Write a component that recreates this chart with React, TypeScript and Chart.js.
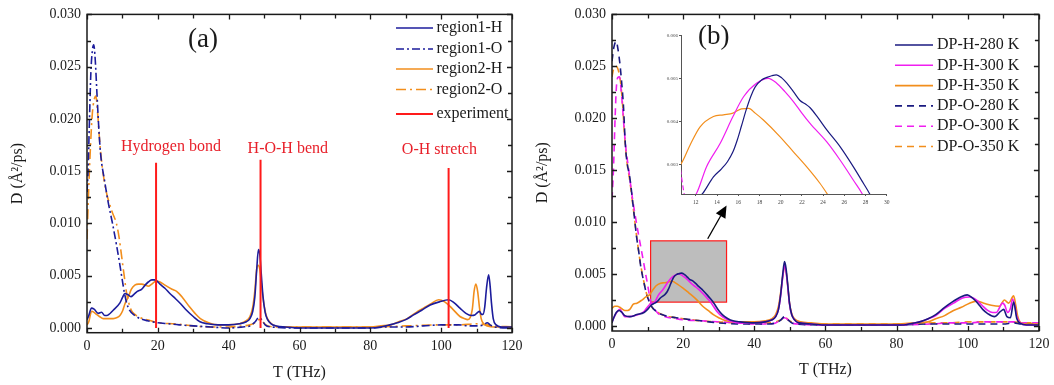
import { useEffect, useRef } from 'react';
import { Chart, registerables } from 'chart.js';

Chart.register(...registerables);

type P = [number, number];

const SERIF = '"Liberation Serif", "Times New Roman", serif';
const TEXT = '#1a1a1a';
const RED = '#e8202a';
const BLUE_A = '#1c1c9c';
const ORANGE = '#f28e1c';
const NAVY = '#1a1a80';
const MAGENTA = '#f01ef0';

// ---------------- axis ticks ----------------
const xTickValues = [0, 20, 40, 60, 80, 100, 120];
const xMinorValues = [10, 30, 50, 70, 90, 110];
const yTickValues = [0, 0.005, 0.01, 0.015, 0.02, 0.025, 0.03];
const yMinorValues = [0.0025, 0.0075, 0.0125, 0.0175, 0.0225, 0.0275];
const insetXTicks = [12, 14, 16, 18, 20, 22, 24, 26, 28, 30];
const insetYTicks = [0.003, 0.004, 0.005, 0.006];

// ---------------- panel (a) ----------------
const aRegion1H: P[] = [
  [0, 0.0008], [0.4, 0.0011], [1.3, 0.0019], [2.0, 0.0018], [3.2, 0.0014], [4.1, 0.0015], [5.0, 0.0012],
  [5.6, 0.0012], [7.4, 0.0017], [9.3, 0.0024], [10.0, 0.0029], [10.7, 0.0033], [11.5, 0.0032], [12.4, 0.0030],
  [13.2, 0.0032], [14.2, 0.0035], [15.4, 0.0037], [16.4, 0.0041], [17.3, 0.0044], [18.3, 0.0046], [19.0, 0.0046],
  [19.7, 0.0045], [20.6, 0.0042], [22, 0.0038], [23.4, 0.0033], [25, 0.0028], [26.5, 0.0023], [28.1, 0.0017],
  [30, 0.0011], [31.9, 0.0006], [34, 0.0004], [37, 0.0003], [40, 0.0003], [43, 0.0004], [45, 0.0006],
  [46, 0.0009], [46.8, 0.0016], [47.4, 0.0030], [47.9, 0.0055], [48.4, 0.0075], [48.8, 0.0070], [49.2, 0.0052],
  [49.7, 0.0030], [50.3, 0.0015], [51, 0.0008], [52, 0.0004], [53.5, 0.0002], [56, 0.0001], [60, 0.0000],
  [70, 0.0000], [80, 0.0000], [83, 0.0001], [85.5, 0.0003], [87.6, 0.0005], [90, 0.0008], [92.2, 0.00125],
  [94.5, 0.0017], [96.9, 0.0022], [99.5, 0.0025], [102.1, 0.0027], [103.7, 0.0024], [105.3, 0.0019],
  [107, 0.0014], [108.5, 0.0012], [109.5, 0.00125], [110.3, 0.0015], [110.8, 0.0016], [111.4, 0.0013],
  [111.8, 0.0013], [112.3, 0.0020], [112.8, 0.0038], [113.4, 0.0051], [113.8, 0.0041], [114.2, 0.0024],
  [114.7, 0.0009], [115.5, 0.0003], [117, 0.0001], [120, 0.0001],
];

const aRegion1O: P[] = [
  [0, 0.0130], [0.3, 0.0150], [0.7, 0.0200], [1.1, 0.0245], [1.5, 0.0265], [1.9, 0.0271], [2.3, 0.0258],
  [2.8, 0.0225], [3.3, 0.0193], [3.8, 0.0168], [5.0, 0.0140], [6.0, 0.0120], [7.2, 0.0100], [8.3, 0.0080],
  [9.3, 0.0060], [10.0, 0.0045], [10.6, 0.0033], [11.2, 0.0024], [12.0, 0.0017], [13.5, 0.0012], [15, 0.0009],
  [17, 0.0007], [20, 0.0005], [23, 0.0004], [26, 0.0003], [30, 0.0002], [35, 0.0001], [40, 0.0000],
  [44, 0.0001], [46, 0.0002], [47.5, 0.0006], [48.5, 0.0010], [49.3, 0.0008], [50.3, 0.0003], [52, 0.0001],
  [60, 0.0000], [80, 0.0000], [85, 0.0001], [90, 0.0001], [95, 0.0002], [100, 0.0003], [105, 0.0003],
  [108, 0.0002], [110, 0.0002], [112, 0.0003], [113, 0.0005], [113.8, 0.0003], [115, 0.0001], [120, 0.0000],
];

const aRegion2H: P[] = [
  [0, 0.0003], [0.5, 0.0006], [1.3, 0.0016], [2.0, 0.0015], [2.7, 0.0013], [3.5, 0.0011], [4.6, 0.0009],
  [6, 0.0009], [7.4, 0.0009], [8.5, 0.0010], [9.3, 0.0012], [10.0, 0.0016], [10.7, 0.0023], [11.7, 0.0030],
  [12.5, 0.0037], [13.5, 0.0041], [14.5, 0.0042], [15.5, 0.0042], [16.5, 0.0041], [17.3, 0.0040],
  [18.3, 0.0042], [19.5, 0.0045], [20.6, 0.0044], [22, 0.0041], [24, 0.0037], [25.3, 0.0035], [27, 0.0029],
  [29, 0.0020], [30.5, 0.0014], [32, 0.0009], [34.7, 0.00045], [37, 0.0003], [40, 0.0003], [43, 0.0004],
  [45, 0.0007], [46, 0.0011], [46.8, 0.0020], [47.4, 0.0036], [47.9, 0.0056], [48.3, 0.0060], [48.8, 0.0056],
  [49.3, 0.0040], [49.9, 0.0024], [50.6, 0.0012], [51.5, 0.0006], [52.5, 0.0003], [55, 0.0001], [60, 0.0001],
  [70, 0.0001], [80, 0.0001], [83, 0.0002], [85.7, 0.0003], [88, 0.0006], [90.4, 0.0009], [93, 0.0015],
  [95, 0.0019], [97, 0.0023], [99.3, 0.0027], [101, 0.0025], [103, 0.0019], [105.3, 0.0011], [106.5, 0.0009],
  [107.5, 0.0008], [108.2, 0.0010], [108.8, 0.0018], [109.3, 0.0035], [109.8, 0.0042], [110.3, 0.0035],
  [110.8, 0.0020], [111.3, 0.0009], [112, 0.0004], [113, 0.0002], [115, 0.0001], [120, 0.0001],
];

const aRegion2O: P[] = [
  [0, 0.0085], [0.5, 0.0135], [1.0, 0.0175], [1.5, 0.0205], [2.0, 0.0218], [2.5, 0.0222], [3.0, 0.0206],
  [3.5, 0.0182], [4.1, 0.0160], [5.0, 0.0138], [5.6, 0.0128], [7.0, 0.0112], [8.3, 0.0100], [9.0, 0.0088],
  [9.8, 0.0068], [10.5, 0.0050], [11.2, 0.0033], [11.8, 0.0024], [12.5, 0.0017], [13.5, 0.0013], [15, 0.0010],
  [18, 0.0007], [20, 0.0005], [25, 0.0004], [30, 0.0002], [35, 0.0001], [40, 0.0001], [44, 0.0002],
  [46, 0.0003], [47.5, 0.0005], [48.6, 0.0008], [49.3, 0.0007], [50.5, 0.0003], [53, 0.0001], [60, 0.0001],
  [80, 0.0001], [90, 0.0002], [100, 0.0003], [105, 0.0003], [110, 0.0004], [113, 0.0003], [115, 0.0002],
  [120, 0.0001],
];

const experimentX = [19.5, 49.0, 102.1];
const experimentTop = [0.0158, 0.0161, 0.0153];

const aLabels = ['(a)', 'Hydrogen bond', 'H-O-H bend', 'O-H stretch'];
const aLabelX = [32.75, 23.7, 56.7, 99.5];
const aLabelY = [0.0276, 0.0173, 0.0171, 0.0170];

// ---------------- panel (b) ----------------
const bH280: P[] = [
  [0, 0.0003], [0.5, 0.0008], [1.2, 0.0013], [2.0, 0.0015], [2.8, 0.0013], [3.6, 0.0010], [5, 0.0009],
  [7, 0.0011], [9, 0.0013], [10, 0.0016], [11, 0.0020], [12, 0.0022], [12.6, 0.00232], [13.66, 0.00272],
  [14.4, 0.0029], [14.98, 0.00307], [15.5, 0.0033], [15.9, 0.00357], [16.3, 0.0039], [16.74, 0.00427],
  [17.2, 0.0046], [17.6, 0.00481], [18.2, 0.00497], [18.7, 0.00503], [19.16, 0.00507], [19.6, 0.00509],
  [20.1, 0.00502], [20.6, 0.00489], [21.2, 0.0047], [21.8, 0.0045], [22.4, 0.0044], [22.8, 0.00432],
  [23.5, 0.0041], [24.35, 0.00381], [25.6, 0.00342], [26.86, 0.00295], [27.8, 0.00257], [28.4, 0.00232],
  [29.2, 0.0019], [30, 0.0015], [31, 0.0011], [32.6, 0.0007], [34, 0.0005], [36, 0.0004], [40, 0.0003],
  [43, 0.0004], [45, 0.0006], [46, 0.0009], [46.8, 0.0016], [47.4, 0.0030], [48.0, 0.0050], [48.5, 0.0062],
  [48.9, 0.0056], [49.4, 0.0040], [49.9, 0.0022], [50.5, 0.0011], [51.3, 0.0006], [52.5, 0.0003], [56, 0.0002],
  [60, 0.0001], [70, 0.0001], [80, 0.0001], [82, 0.0001], [84.2, 0.00025], [86.5, 0.0004], [88.85, 0.0007],
  [91, 0.0011], [93.5, 0.0018], [96, 0.0024], [98, 0.0028], [99.85, 0.0030], [101.3, 0.0027], [102.8, 0.0022],
  [104.2, 0.0016], [105.6, 0.0012], [107.5, 0.0009], [109.2, 0.0014], [110.1, 0.0016], [111, 0.0009],
  [112, 0.0008], [112.9, 0.0023], [113.8, 0.0007], [114.8, 0.00025], [116.5, 0.0001], [120, 0.0001],
];

const bH300: P[] = [
  [0, 0.0004], [0.8, 0.0010], [1.5, 0.0014], [2.2, 0.0016], [3.0, 0.0012], [3.6, 0.0009], [5, 0.0009],
  [7.4, 0.0011], [9, 0.0014], [9.7, 0.0017], [10.7, 0.0021], [12.03, 0.00232], [13.0, 0.00295], [14.3, 0.0035],
  [15.5, 0.00412], [16.5, 0.00458], [17.75, 0.0049], [18.84, 0.00501], [19.6, 0.0049], [20.4, 0.0047],
  [21.2, 0.00447], [22.0, 0.0042], [22.77, 0.00396], [24.35, 0.00353], [25.6, 0.00311], [26.86, 0.00264],
  [27.7, 0.00232], [28.5, 0.0019], [29.5, 0.0014], [31, 0.0009], [32.5, 0.0006], [34, 0.0004], [37, 0.0003],
  [40, 0.0003], [43, 0.0004], [45, 0.0006], [46, 0.0009], [46.8, 0.0016], [47.4, 0.0029], [48.0, 0.0047],
  [48.5, 0.0058], [48.9, 0.0053], [49.4, 0.0038], [49.9, 0.0021], [50.5, 0.0011], [51.3, 0.0006],
  [52.5, 0.0003], [56, 0.0002], [60, 0.0001], [80, 0.0001], [84, 0.0002], [86.5, 0.0004], [89, 0.0007],
  [91, 0.0010], [93.5, 0.0017], [96, 0.0022], [98.5, 0.0027], [100.5, 0.0028], [102.5, 0.0025], [104, 0.0020],
  [105.6, 0.0015], [107, 0.0013], [108, 0.0013], [109.8, 0.0022], [110.4, 0.0020], [111.2, 0.0013],
  [112, 0.0017], [112.6, 0.0026], [113.2, 0.0020], [113.8, 0.0009], [114.8, 0.0003], [116.5, 0.0001],
  [120, 0.0001],
];

const bH350: P[] = [
  [0, 0.0017], [0.8, 0.0019], [1.5, 0.0019], [2.2, 0.0018], [3.0, 0.0016], [3.6, 0.0015], [4.4, 0.0015],
  [5, 0.0016], [6, 0.0021], [7, 0.0022], [8.4, 0.0025], [9.5, 0.0028], [10.6, 0.00302], [11.46, 0.00346],
  [12.4, 0.00388], [13.66, 0.00412], [14.6, 0.00416], [15.5, 0.0042], [16.3, 0.0043], [17.0, 0.00431],
  [17.6, 0.0042], [18.37, 0.00404], [19.95, 0.00365], [21.2, 0.0033], [22.46, 0.00295], [23.7, 0.00257],
  [24.4, 0.00232], [25.5, 0.0019], [27, 0.0015], [28.5, 0.0011], [30, 0.0008], [32, 0.0005], [35, 0.0004],
  [40, 0.0004], [43, 0.0005], [45, 0.0007], [46, 0.0011], [46.8, 0.0019], [47.4, 0.0032], [48.0, 0.0048],
  [48.5, 0.0057], [48.9, 0.0053], [49.4, 0.0039], [49.9, 0.0022], [50.5, 0.0012], [51.3, 0.0007],
  [53, 0.0004], [56, 0.0003], [60, 0.0002], [80, 0.0002], [85, 0.0003], [88.85, 0.0004], [91, 0.0007],
  [93.5, 0.0010], [96, 0.0015], [98.2, 0.0018], [100.5, 0.0022], [102.4, 0.0024], [104.5, 0.0022],
  [106.6, 0.0020], [108.9, 0.0019], [110.3, 0.0025], [111.5, 0.0022], [112.9, 0.0029], [113.5, 0.0020],
  [114, 0.0010], [115, 0.0003], [117, 0.0002], [120, 0.0002],
];

const bO280: P[] = [
  [0, 0.0255], [0.5, 0.0268], [1.2, 0.0274], [1.7, 0.0266], [2.24, 0.0252], [2.7, 0.0235], [3.2, 0.0213],
  [3.8, 0.0172], [4.3, 0.0156], [5.0, 0.0143], [6.0, 0.0114], [6.9, 0.0086], [7.5, 0.0072], [8.1, 0.0057],
  [8.9, 0.0043], [9.7, 0.0031], [10.65, 0.0022], [11.5, 0.0017], [12.5, 0.0014], [14, 0.0011], [16, 0.0009],
  [18, 0.0008], [20, 0.0007], [25, 0.0005], [30, 0.0003], [35, 0.0002], [40, 0.0002], [44, 0.0002],
  [46, 0.0003], [47.5, 0.0006], [48.5, 0.0009], [49.5, 0.0006], [50.5, 0.0003], [52, 0.0002], [60, 0.0001],
  [80, 0.0001], [90, 0.0002], [100, 0.0002], [105, 0.0002], [110, 0.0002], [113, 0.0003], [115, 0.0002],
  [120, 0.0002],
];

const bO300: P[] = [
  [0, 0.0122], [0.4, 0.0150], [0.84, 0.0197], [1.2, 0.0228], [1.6, 0.0239], [2.1, 0.0240], [2.7, 0.0222],
  [3.46, 0.0188], [4.0, 0.0168], [4.6, 0.0153], [5.7, 0.0124], [6.5, 0.0107], [7.4, 0.0089], [8.1, 0.0076],
  [8.8, 0.0063], [9.4, 0.0051], [10.0, 0.0040], [10.6, 0.0028], [11.0, 0.0022], [11.5, 0.0019], [12, 0.0016],
  [13, 0.0012], [15, 0.0009], [18, 0.0007], [20, 0.0006], [25, 0.0005], [30, 0.0004], [35, 0.0003],
  [40, 0.0002], [44, 0.0002], [46, 0.0003], [47.5, 0.0006], [48.5, 0.0008], [49.5, 0.0006], [50.5, 0.0003],
  [52, 0.0002], [60, 0.0001], [80, 0.0001], [90, 0.0002], [95, 0.0003], [100, 0.0003], [105, 0.0004],
  [110, 0.0004], [113, 0.0004], [115, 0.0003], [120, 0.0003],
];

const bO350: P[] = [
  [0, 0.0240], [0.5, 0.0248], [1.2, 0.0250], [1.8, 0.0246], [2.4, 0.0235], [3.0, 0.0212], [3.6, 0.0180],
  [4.2, 0.0158], [5.0, 0.0140], [6.0, 0.0113], [6.9, 0.0087], [8.1, 0.0058], [9.0, 0.0042], [9.8, 0.0030],
  [10.7, 0.0021], [11.5, 0.0017], [12.5, 0.0014], [14, 0.0011], [16, 0.0009], [18, 0.0008], [20, 0.0007],
  [25, 0.0005], [30, 0.0004], [35, 0.0003], [40, 0.0003], [44, 0.0003], [46, 0.0004], [47.5, 0.0006],
  [48.5, 0.0009], [49.5, 0.0006], [50.5, 0.0004], [52, 0.0003], [60, 0.0002], [80, 0.0002], [90, 0.0003],
  [95, 0.0003], [100, 0.0004], [105, 0.0004], [110, 0.0004], [113, 0.0004], [115, 0.0003], [120, 0.0003],
];

const bLabels = ['(b)'];
const bLabelX = [28.6];
const bLabelY = [0.0278];

const zoomBoxX = [10.85, 32.2];
const zoomBoxY = [0.0023, 0.0082];
const arrowFrom: P = [26.9, 0.0084];
const arrowTo: P = [32.2, 0.0116];

// ---------------- helpers ----------------
const toXY = (pts: P[]) => pts.map(([x, y]) => ({ x, y }));

function experimentPoints() {
  const out: { x: number; y: number | null }[] = [];
  experimentX.forEach((x, i) => {
    out.push({ x, y: 0 });
    out.push({ x, y: experimentTop[i] });
    if (i < experimentX.length - 1) out.push({ x, y: null });
  });
  return out;
}

function line(label: string, pts: P[], color: string, dash: number[], width = 1.6) {
  return {
    label,
    data: toXY(pts),
    borderColor: color,
    backgroundColor: color,
    borderWidth: width,
    borderDash: dash,
    pointRadius: 0,
    cubicInterpolationMode: 'monotone',
    fill: false,
  };
}

function framePlugin() {
  return {
    id: 'frameTicks',
    afterDatasetsDraw(chart: any) {
      const { ctx, chartArea: a, scales } = chart;
      const sx = scales.x;
      const sy = scales.y;
      ctx.save();
      ctx.strokeStyle = TEXT;
      ctx.lineWidth = 1.3;
      ctx.setLineDash([]);
      ctx.beginPath();
      const vx = (vals: number[], len: number) =>
        vals.forEach((v) => {
          const p = Math.round(sx.getPixelForValue(v)) + 0.5;
          ctx.moveTo(p, a.bottom);
          ctx.lineTo(p, a.bottom - len);
          ctx.moveTo(p, a.top);
          ctx.lineTo(p, a.top + len);
        });
      const vy = (vals: number[], len: number) =>
        vals.forEach((v) => {
          const p = Math.round(sy.getPixelForValue(v)) + 0.5;
          ctx.moveTo(a.left, p);
          ctx.lineTo(a.left + len, p);
          ctx.moveTo(a.right, p);
          ctx.lineTo(a.right - len, p);
        });
      vx(xTickValues, 5);
      vx(xMinorValues, 4);
      vy(yTickValues, 5);
      vy(yMinorValues, 4);
      ctx.stroke();
      ctx.lineWidth = 1.5;
      ctx.strokeRect(a.left, a.top, a.right - a.left, a.bottom - a.top);
      ctx.restore();
    },
  };
}

function legendPlugin(rows: number[], x0: number, x1: number, tx: number) {
  return {
    id: 'lineLegend',
    afterDatasetsDraw(chart: any) {
      const { ctx } = chart;
      ctx.save();
      ctx.font = `16px ${SERIF}`;
      ctx.textBaseline = 'middle';
      ctx.textAlign = 'left';
      chart.data.datasets.forEach((d: any, i: number) => {
        const y = rows[i];
        ctx.strokeStyle = d.borderColor;
        ctx.lineWidth = d.borderWidth;
        ctx.setLineDash(d.borderDash || []);
        ctx.beginPath();
        ctx.moveTo(x0, y);
        ctx.lineTo(x1, y);
        ctx.stroke();
        ctx.fillStyle = TEXT;
        ctx.fillText(d.label, tx, y);
      });
      ctx.restore();
    },
  };
}

function textPlugin(texts: string[], xs: number[], ys: number[], sizes: number[], colors: string[]) {
  return {
    id: 'texts',
    afterDatasetsDraw(chart: any) {
      const { ctx, scales } = chart;
      ctx.save();
      ctx.textAlign = 'center';
      ctx.textBaseline = 'middle';
      texts.forEach((t, i) => {
        ctx.font = `${sizes[i]}px ${SERIF}`;
        ctx.fillStyle = colors[i];
        ctx.fillText(t, scales.x.getPixelForValue(xs[i]), scales.y.getPixelForValue(ys[i]));
      });
      ctx.restore();
    },
  };
}

function zoomMarkPlugin() {
  return {
    id: 'zoomMark',
    beforeDatasetsDraw(chart: any) {
      const { ctx, scales } = chart;
      const x0 = scales.x.getPixelForValue(zoomBoxX[0]);
      const x1 = scales.x.getPixelForValue(zoomBoxX[1]);
      const y0 = scales.y.getPixelForValue(zoomBoxY[1]);
      const y1 = scales.y.getPixelForValue(zoomBoxY[0]);
      ctx.save();
      ctx.fillStyle = '#bdbdbd';
      ctx.fillRect(x0, y0, x1 - x0, y1 - y0);
      ctx.strokeStyle = '#ff1a1a';
      ctx.lineWidth = 1.2;
      ctx.strokeRect(x0, y0, x1 - x0, y1 - y0);
      ctx.restore();
    },
    afterDatasetsDraw(chart: any) {
      const { ctx, scales } = chart;
      const ax = scales.x.getPixelForValue(arrowFrom[0]);
      const ay = scales.y.getPixelForValue(arrowFrom[1]);
      const bx = scales.x.getPixelForValue(arrowTo[0]);
      const by = scales.y.getPixelForValue(arrowTo[1]);
      const ang = Math.atan2(by - ay, bx - ax);
      const hl = 12;
      const hw = 5.5;
      const cx = bx - hl * Math.cos(ang);
      const cy = by - hl * Math.sin(ang);
      ctx.save();
      ctx.strokeStyle = '#000';
      ctx.fillStyle = '#000';
      ctx.lineWidth = 1.3;
      ctx.beginPath();
      ctx.moveTo(ax, ay);
      ctx.lineTo(cx, cy);
      ctx.stroke();
      ctx.beginPath();
      ctx.moveTo(bx, by);
      ctx.lineTo(cx + hw * Math.sin(ang), cy - hw * Math.cos(ang));
      ctx.lineTo(cx - hw * Math.sin(ang), cy + hw * Math.cos(ang));
      ctx.closePath();
      ctx.fill();
      ctx.restore();
    },
  };
}

function mainScales(yMin: number, yAxisW: number, xAxisH: number, xTickPad: number, yTitlePad: number, xTitlePad: number) {
  return {
    x: {
      type: 'linear',
      min: 0,
      max: 120,
      afterBuildTicks: (s: any) => {
        s.ticks = xTickValues.map((v) => ({ value: v }));
      },
      afterFit: (s: any) => {
        s.height = xAxisH;
      },
      grid: { display: false, drawTicks: false },
      border: { display: false },
      ticks: {
        autoSkip: false,
        maxRotation: 0,
        padding: xTickPad,
        color: TEXT,
        font: { family: SERIF, size: 14 },
        callback: (v: any) => String(v),
      },
      title: {
        display: true,
        text: 'T (THz)',
        color: TEXT,
        font: { family: SERIF, size: 16 },
        padding: { top: 0, bottom: xTitlePad },
      },
    },
    y: {
      type: 'linear',
      min: yMin,
      max: 0.03,
      afterBuildTicks: (s: any) => {
        s.ticks = yTickValues.map((v) => ({ value: v }));
      },
      afterFit: (s: any) => {
        s.width = yAxisW;
      },
      grid: { display: false, drawTicks: false },
      border: { display: false },
      ticks: {
        autoSkip: false,
        padding: 6,
        color: TEXT,
        font: { family: SERIF, size: 14 },
        callback: (v: any) => Number(v).toFixed(3),
      },
      title: {
        display: true,
        text: 'D (Å²/ps)',
        color: TEXT,
        font: { family: SERIF, size: 16 },
        padding: { top: yTitlePad, bottom: 0 },
      },
    },
  };
}

function panelBDatasets(width: number, dash: number[]) {
  return [
    line('DP-H-280 K', bH280, NAVY, [], width),
    line('DP-H-300 K', bH300, MAGENTA, [], width),
    line('DP-H-350 K', bH350, ORANGE, [], width),
    line('DP-O-280 K', bO280, NAVY, dash, width),
    line('DP-O-300 K', bO300, MAGENTA, dash, width),
    line('DP-O-350 K', bO350, ORANGE, dash, width),
  ];
}

export default function App() {
  const refA = useRef<HTMLCanvasElement>(null);
  const refB = useRef<HTMLCanvasElement>(null);
  const refI = useRef<HTMLCanvasElement>(null);

  useEffect(() => {
    const charts: Chart[] = [];

    const exp: any = {
      label: 'experiment',
      data: experimentPoints(),
      borderColor: '#ff1a1a',
      backgroundColor: '#ff1a1a',
      borderWidth: 2,
      borderDash: [],
      pointRadius: 0,
      tension: 0,
      spanGaps: false,
      order: -1,
    };

    charts.push(
      new Chart(refA.current as HTMLCanvasElement, {
        type: 'line',
        data: {
          datasets: [
            line('region1-H', aRegion1H, BLUE_A, []),
            line('region1-O', aRegion1O, BLUE_A, [8, 3, 2, 3]),
            line('region2-H', aRegion2H, ORANGE, []),
            line('region2-O', aRegion2O, ORANGE, [10, 4, 2, 4]),
            exp,
          ] as any,
        },
        options: {
          responsive: false,
          animation: false,
          devicePixelRatio: 1,
          events: [],
          layout: { padding: { left: 0, right: 18, top: 13.3, bottom: 0 } },
          plugins: { legend: { display: false }, tooltip: { enabled: false } },
          scales: mainScales(-0.00045, 87, 52.3, 5.6, 8, 2.4) as any,
        },
        plugins: [
          framePlugin(),
          legendPlugin([28, 49, 69, 89.5, 114], 396, 433, 436.5),
          textPlugin(aLabels, aLabelX, aLabelY, [27, 16, 16, 16], [TEXT, RED, RED, RED]),
        ] as any,
      })
    );

    charts.push(
      new Chart(refB.current as HTMLCanvasElement, {
        type: 'line',
        data: { datasets: panelBDatasets(1.6, [7, 5]) as any },
        options: {
          responsive: false,
          animation: false,
          devicePixelRatio: 1,
          events: [],
          layout: { padding: { left: 0, right: 14, top: 13.3, bottom: 0 } },
          plugins: { legend: { display: false }, tooltip: { enabled: false } },
          scales: mainScales(-0.00048, 82, 54, 4.6, 3.4, 5.4) as any,
        },
        plugins: [
          zoomMarkPlugin(),
          framePlugin(),
          legendPlugin([45, 65.3, 85.6, 105.9, 126.2, 146.5], 365, 403, 407),
          textPlugin(bLabels, bLabelX, bLabelY, [27], [TEXT]),
        ] as any,
      })
    );

    charts.push(
      new Chart(refI.current as HTMLCanvasElement, {
        type: 'line',
        data: { datasets: panelBDatasets(1.2, [5, 3]) as any },
        options: {
          responsive: false,
          animation: false,
          devicePixelRatio: 1,
          events: [],
          layout: { padding: { left: 0, right: 8.3, top: 10.7, bottom: 0 } },
          plugins: { legend: { display: false }, tooltip: { enabled: false } },
          scales: {
            x: {
              type: 'linear',
              min: 10.6,
              max: 30,
              afterBuildTicks: (s: any) => {
                s.ticks = insetXTicks.map((v) => ({ value: v }));
              },
              afterFit: (s: any) => {
                s.height = 16;
              },
              grid: { display: true, drawOnChartArea: false, drawTicks: true, tickLength: 2, color: '#555' },
              border: { display: true, color: '#555', width: 1 },
              ticks: {
                autoSkip: false,
                maxRotation: 0,
                padding: 3,
                color: '#444',
                font: { family: SERIF, size: 5.5 },
                callback: (v: any) => String(v),
              },
            },
            y: {
              type: 'linear',
              min: 0.00232,
              max: 0.006,
              afterBuildTicks: (s: any) => {
                s.ticks = insetYTicks.map((v) => ({ value: v }));
              },
              afterFit: (s: any) => {
                s.width = 31;
              },
              grid: { display: true, drawOnChartArea: false, drawTicks: true, tickLength: 2, color: '#555' },
              border: { display: true, color: '#555', width: 1 },
              ticks: {
                autoSkip: false,
                padding: 1,
                color: '#444',
                font: { family: SERIF, size: 5 },
                callback: (v: any) => Number(v).toFixed(3),
              },
            },
          } as any,
        },
      })
    );

    return () => charts.forEach((c) => c.destroy());
  }, []);

  return (
    <div
      style={{
        position: 'fixed',
        left: 0,
        top: 0,
        width: 1054,
        height: 385,
        background: '#fff',
        overflow: 'hidden',
      }}
    >
      <canvas ref={refA} width={530} height={385} style={{ position: 'absolute', left: 0, top: 0 }} />
      <canvas ref={refB} width={524} height={385} style={{ position: 'absolute', left: 530, top: 0 }} />
      <canvas ref={refI} width={245} height={185} style={{ position: 'absolute', left: 650, top: 25 }} />
    </div>
  );
}
